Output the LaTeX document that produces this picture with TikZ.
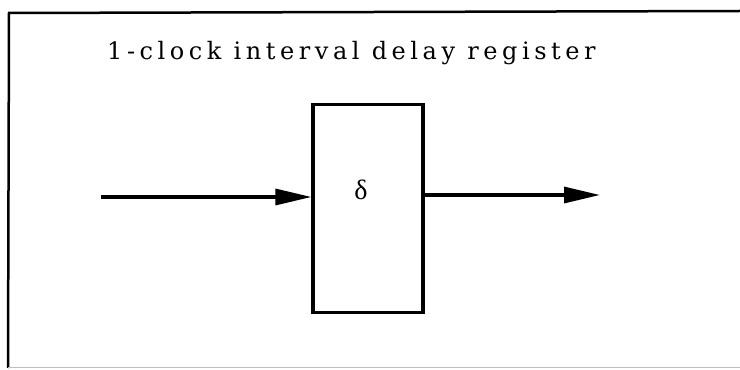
\documentclass[tikz,border=0pt]{standalone}
\usepackage{fontspec}
\setmainfont{Liberation Serif}
\newfontfamily\titlefont[LetterSpace=19]{DejaVu Serif}
\usetikzlibrary{arrows.meta}
\begin{document}
\begin{tikzpicture}[x=1pt,y=1pt,
  frameline/.style={line width=2.5pt},
  regbox/.style={draw,line width=3.2pt,minimum width=110pt,minimum height=208pt,inner sep=0pt},
  sig/.style={line width=3.2pt,-{Triangle[length=36pt,width=16pt]}}]
\useasboundingbox (0,0) rectangle (740,370);
% frame
\draw[frameline] (740,359) -- (9,357) -- (8,2);
\draw[line width=1pt,black!25] (8,2) -- (740,2);
% title
\node[anchor=base west,inner sep=0pt,font=\titlefont\fontsize{24}{28}\selectfont] (title) at (107,310) {1-clock interval delay register};
% register
\node[regbox] (reg) at (368,161.5) {};
\node[font=\fontsize{28}{32}\selectfont,inner sep=0pt] (delta) at (361,180) {δ};
\coordinate (in) at (101,173);
\coordinate (out) at (600,175);
\draw[sig] (in) -- (in -| reg.west);
\draw[sig] (out -| reg.east) -- (out);
\end{tikzpicture}
\end{document}
